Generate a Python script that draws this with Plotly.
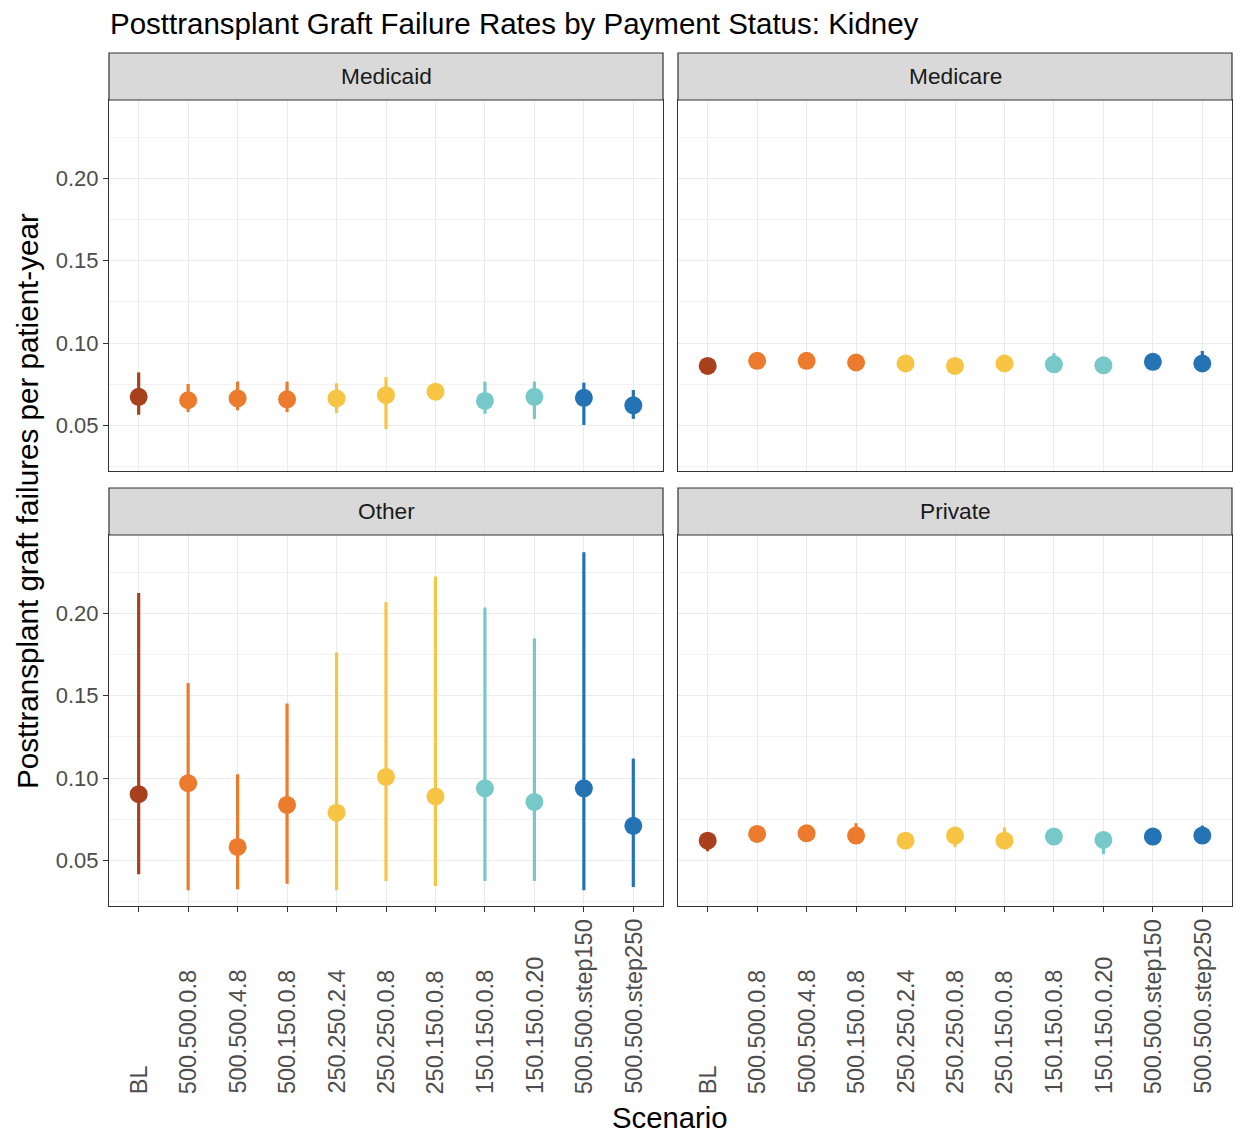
import plotly.graph_objects as go

# ---------------- data ----------------
scenarios = ["BL", "500.500.0.8", "500.500.4.8", "500.150.0.8", "250.250.2.4",
             "250.250.0.8", "250.150.0.8", "150.150.0.8", "150.150.0.20",
             "500.500.step150", "500.500.step250"]
panels = ["Medicaid", "Medicare", "Other", "Private"]

medicaid_mid = [0.0675, 0.0654, 0.0665, 0.0660, 0.0665, 0.0685, 0.0706, 0.0650, 0.0675, 0.0669, 0.0623]
medicaid_lo  = [0.0566, 0.0582, 0.0593, 0.0582, 0.0576, 0.0479, 0.0660, 0.0572, 0.0541, 0.0504, 0.0541]
medicaid_hi  = [0.0823, 0.0753, 0.0767, 0.0767, 0.0757, 0.0794, 0.0750, 0.0767, 0.0767, 0.0761, 0.0716]

medicare_mid = [0.0862, 0.0893, 0.0893, 0.0883, 0.0877, 0.0862, 0.0877, 0.0872, 0.0866, 0.0887, 0.0877]
medicare_lo  = [0.0830, 0.0865, 0.0865, 0.0855, 0.0850, 0.0812, 0.0850, 0.0845, 0.0840, 0.0860, 0.0850]
medicare_hi  = [0.0890, 0.0920, 0.0920, 0.0910, 0.0905, 0.0905, 0.0905, 0.0940, 0.0895, 0.0915, 0.0953]

other_mid = [0.0903, 0.0970, 0.0583, 0.0838, 0.0791, 0.1008, 0.0889, 0.0939, 0.0856, 0.0939, 0.0711]
other_lo  = [0.0417, 0.0320, 0.0326, 0.0360, 0.0320, 0.0377, 0.0346, 0.0377, 0.0377, 0.0320, 0.0340]
other_hi  = [0.2123, 0.1577, 0.1024, 0.1453, 0.1763, 0.2067, 0.2223, 0.2036, 0.1848, 0.2370, 0.1119]

private_mid = [0.0621, 0.0662, 0.0666, 0.0652, 0.0621, 0.0652, 0.0621, 0.0646, 0.0626, 0.0646, 0.0652]
private_lo  = [0.0557, 0.0630, 0.0635, 0.0620, 0.0590, 0.0581, 0.0590, 0.0615, 0.0540, 0.0615, 0.0620]
private_hi  = [0.0662, 0.0690, 0.0695, 0.0727, 0.0650, 0.0680, 0.0702, 0.0675, 0.0655, 0.0675, 0.0713]

colors = ["#A8401E", "#EC7B2E", "#EC7B2E", "#EC7B2E", "#F7C444", "#F7C444",
          "#F7C444", "#76C9C8", "#76C9C8", "#2474B5", "#2474B5"]

y_ticks = [0.05, 0.10, 0.15, 0.20]

panel_data = {
    "Medicaid": (medicaid_mid, medicaid_lo, medicaid_hi),
    "Medicare": (medicare_mid, medicare_lo, medicare_hi),
    "Other": (other_mid, other_lo, other_hi),
    "Private": (private_mid, private_lo, private_hi),
}

# ---------------- layout geometry (screen pixels; body margin removed below) ----------------
W, H = 1236, 1135
PLOT_L, PLOT_R, PLOT_T, PLOT_B = 109, 1232, 53, 906
ML, MT = PLOT_L, PLOT_T
MR, MB = W - PLOT_R, H - PLOT_B
PW = PLOT_R - PLOT_L
PH = PLOT_B - PLOT_T


def px_x(x):
    return (x - PLOT_L) / PW


def px_y(y):
    return (PLOT_B - y) / PH


left_dom = [px_x(109), px_x(663)]
right_dom = [px_x(678), px_x(1232)]
top_dom = [px_y(471), px_y(100)]
bot_dom = [px_y(906), px_y(535)]

fig = go.Figure()

axis_map = {
    "Medicaid": ("x", "y", left_dom, top_dom),
    "Medicare": ("x2", "y2", right_dom, top_dom),
    "Other": ("x3", "y3", left_dom, bot_dom),
    "Private": ("x4", "y4", right_dom, bot_dom),
}

for p in panels:
    mid, lo, hi = panel_data[p]
    xa, ya, _, _ = axis_map[p]
    for i, s in enumerate(scenarios):
        fig.add_trace(go.Scatter(
            x=[s], y=[mid[i]], xaxis=xa, yaxis=ya, mode="markers",
            marker=dict(color=colors[i], size=18, line=dict(width=0)),
            error_y=dict(type="data", symmetric=False,
                         array=[hi[i] - mid[i]], arrayminus=[mid[i] - lo[i]],
                         color=colors[i], thickness=3.2, width=0),
            showlegend=False, hoverinfo="skip"))

FONT = "Liberation Sans, Arial, Helvetica, sans-serif"
GRID = "#EBEBEB"
BORDER = "#333333"

layout = dict(
    width=W, height=H,
    margin=dict(l=ML, r=MR, t=MT, b=MB, pad=0, autoexpand=False),
    paper_bgcolor="white", plot_bgcolor="white",
    font=dict(family=FONT, color="#000000"),
    showlegend=False,
)

for p in panels:
    xa, ya, xd, yd = axis_map[p]
    xkey = "xaxis" if xa == "x" else "xaxis" + xa[1:]
    ykey = "yaxis" if ya == "y" else "yaxis" + ya[1:]
    bottom_row = p in ("Other", "Private")
    left_col = p in ("Medicaid", "Other")
    layout[xkey] = dict(
        domain=xd, anchor=ya, type="category",
        categoryorder="array", categoryarray=scenarios,
        range=[-0.6, len(scenarios) - 0.4],
        showgrid=True, gridcolor=GRID, gridwidth=1.1,
        showline=True, mirror=True, linecolor=BORDER, linewidth=1.2,
        ticks="outside" if bottom_row else "", ticklen=5, tickwidth=1.1, tickcolor=BORDER,
        showticklabels=False,
        zeroline=False, fixedrange=True,
    )
    layout[ykey] = dict(
        domain=yd, anchor=xa,
        range=[0.0225, 0.2475],
        tickmode="array", tickvals=y_ticks, ticktext=[f"{v:.2f}" for v in y_ticks],
        showgrid=True, gridcolor=GRID, gridwidth=1.1,
        minor=dict(tickmode="array", tickvals=[0.025, 0.075, 0.125, 0.175, 0.225],
                   showgrid=True, gridcolor="#F2F2F2", gridwidth=0.6, ticks=""),
        showline=True, mirror=True, linecolor=BORDER, linewidth=1.2,
        ticks="outside" if left_col else "", ticklen=5, tickwidth=1.1, tickcolor=BORDER,
        showticklabels=left_col,
        tickfont=dict(family=FONT, size=22, color="#4D4D4D"),
        zeroline=False, fixedrange=True,
    )

fig.update_layout(**layout)

shapes = []
annotations = []

# x tick labels: rotated, bottom-aligned (as in the reference)
for xa in ("x3", "x4"):
    for s in scenarios:
        annotations.append(dict(text=s, xref=xa, yref="paper", x=s, y=px_y(1096),
                                xanchor="center", yanchor="bottom", textangle=-90,
                                showarrow=False,
                                font=dict(family=FONT, size=23.5, color="#4D4D4D")))

# facet strips
strip_pos = {
    "Medicaid": (109, 663, 53, 100),
    "Medicare": (678, 1232, 53, 100),
    "Other": (109, 663, 488, 535),
    "Private": (678, 1232, 488, 535),
}
for p in panels:
    x0, x1, y0, y1 = strip_pos[p]
    shapes.append(dict(type="rect", xref="paper", yref="paper",
                       x0=px_x(x0), x1=px_x(x1), y0=px_y(y1), y1=px_y(y0),
                       fillcolor="#D9D9D9", line=dict(color=BORDER, width=1.2),
                       layer="above"))
    annotations.append(dict(text=p, xref="paper", yref="paper",
                            x=px_x((x0 + x1) / 2), y=px_y((y0 + y1) / 2),
                            xanchor="center", yanchor="middle", showarrow=False,
                            font=dict(family=FONT, size=22.7, color="#1A1A1A")))

annotations.append(dict(text="Posttransplant Graft Failure Rates by Payment Status: Kidney",
                        xref="paper", yref="paper", x=px_x(108), y=px_y(23),
                        xanchor="left", yanchor="middle", showarrow=False,
                        font=dict(family=FONT, size=29.5, color="#000000")))
annotations.append(dict(text="Scenario", xref="paper", yref="paper",
                        x=px_x(670), y=px_y(1117), xanchor="center", yanchor="middle",
                        showarrow=False, font=dict(family=FONT, size=29.3, color="#000000")))
annotations.append(dict(text="Posttransplant graft failures per patient-year",
                        xref="paper", yref="paper", x=px_x(27), y=px_y(501),
                        xanchor="center", yanchor="middle", textangle=-90,
                        showarrow=False, font=dict(family=FONT, size=29.6, color="#000000")))

fig.update_layout(shapes=shapes, annotations=annotations)

fig.write_html(
    "out.html",
    config={"displayModeBar": False},
    post_script="document.body.style.margin='0';document.documentElement.style.overflow='hidden';",
)
